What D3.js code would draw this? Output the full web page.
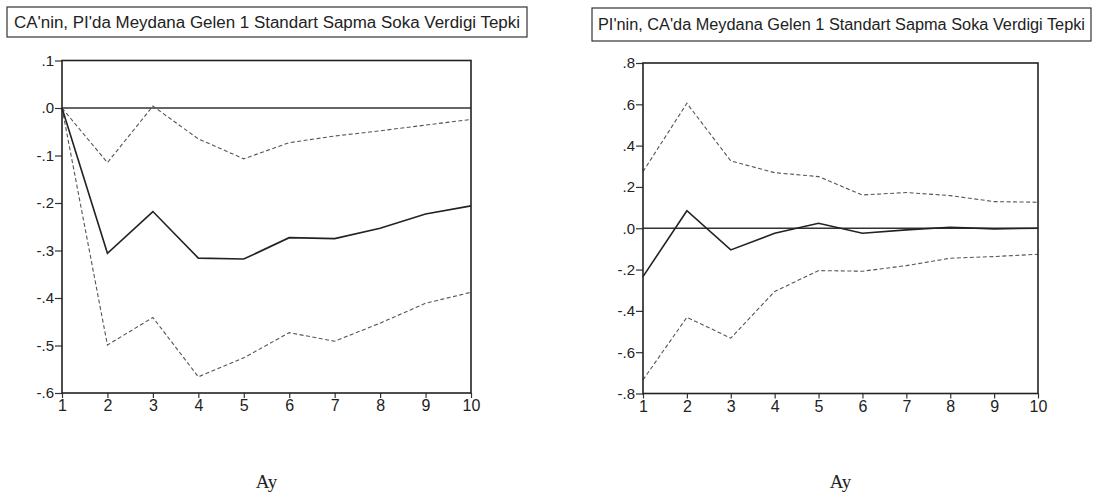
<!DOCTYPE html>
<html>
<head>
<meta charset="utf-8">
<script src="https://cdn.jsdelivr.net/npm/d3@7"></script>
<style>
  body { margin: 0; background: #fff; }
  svg { display: block; }
  .tick text { font-family: "Liberation Sans", Arial, sans-serif; fill: #222; }
</style>
</head>
<body>
<div id="chart"></div>
<script>
// DATA
var months = [1, 2, 3, 4, 5, 6, 7, 8, 9, 10];
var yTicksCA = [0.1, 0, -0.1, -0.2, -0.3, -0.4, -0.5, -0.6];
var yTicksPI = [0.8, 0.6, 0.4, 0.2, 0, -0.2, -0.4, -0.6, -0.8];

// CA response to PI shock
var caResp  = [0, -0.306, -0.218, -0.316, -0.318, -0.273, -0.275, -0.253, -0.223, -0.206];
var caUpper = [0, -0.115,  0.004, -0.065, -0.107, -0.073, -0.059, -0.048, -0.036, -0.024];
var caLower = [0, -0.499, -0.441, -0.566, -0.526, -0.473, -0.491, -0.453, -0.411, -0.388];

// PI response to CA shock
var piResp  = [-0.234, 0.085, -0.105, -0.024, 0.024, -0.024, -0.008, 0.005, -0.003, 0];
var piUpper = [0.274, 0.605, 0.326, 0.269, 0.250, 0.161, 0.173, 0.158, 0.129, 0.126];
var piLower = [-0.734, -0.431, -0.532, -0.306, -0.205, -0.208, -0.181, -0.145, -0.137, -0.126];

var titleCA = "CA'nin, PI'da Meydana Gelen 1 Standart Sapma Soka Verdigi Tepki";
var titlePI = "PI'nin, CA'da Meydana Gelen 1 Standart Sapma Soka Verdigi Tepki";
var xTitle = "Ay";

var width = 1094, height = 497;

var svg = d3.select("#chart").append("svg")
    .attr("width", width)
    .attr("height", height);

// format like .1 / .0 / -.1 (plain hyphen)
function fmt(v) {
  var s = Math.abs(v).toFixed(1).replace("0.", ".");
  return (v < -1e-9 ? "-" : "") + s;
}

function panel(opt) {
  var x = d3.scaleLinear().domain([1, 10]).range([opt.left, opt.right]);
  var y = d3.scaleLinear().domain(opt.yDomain).range([opt.bottom, opt.top]);

  var g = svg.append("g");

  // title box
  g.append("rect")
    .attr("x", opt.box[0]).attr("y", opt.box[1])
    .attr("width", opt.box[2] - opt.box[0]).attr("height", opt.box[3] - opt.box[1])
    .attr("fill", "none").attr("stroke", "#333").attr("stroke-width", 1.2);
  g.append("text")
    .attr("x", (opt.box[0] + opt.box[2]) / 2)
    .attr("y", (opt.box[1] + opt.box[3]) / 2 + 5.8)
    .attr("text-anchor", "middle")
    .style("font-family", "'Liberation Sans', Arial, sans-serif")
    .style("font-size", "16px")
    .attr("fill", "#222")
    .attr("textLength", opt.titleLen)
    .attr("lengthAdjust", "spacingAndGlyphs")
    .text(opt.title);

  // zero line
  g.append("line")
    .attr("x1", opt.left).attr("x2", opt.right)
    .attr("y1", y(0)).attr("y2", y(0))
    .attr("stroke", "#333").attr("stroke-width", 1.3);

  var line = d3.line()
    .x(function(d, i) { return x(months[i]); })
    .y(function(d) { return y(d); });

  [opt.upper, opt.lower].forEach(function(s) {
    g.append("path").datum(s)
      .attr("d", line)
      .attr("fill", "none")
      .attr("stroke", "#555")
      .attr("stroke-width", 1.1)
      .attr("stroke-dasharray", "4,2.5");
  });
  g.append("path").datum(opt.resp)
    .attr("d", line)
    .attr("fill", "none")
    .attr("stroke", "#222")
    .attr("stroke-width", 1.6);

  // axes
  var ax = g.append("g")
    .attr("transform", "translate(0," + opt.bottom + ")")
    .call(d3.axisBottom(x).tickValues(months).tickSize(5).tickPadding(2).tickFormat(d3.format("d")));
  ax.selectAll("text").style("font-size", "16px");

  var ay = g.append("g")
    .attr("transform", "translate(" + opt.left + ",0)")
    .call(d3.axisLeft(y).tickValues(opt.yTicks).tickSize(7).tickPadding(1).tickFormat(fmt));
  ay.selectAll("text").style("font-size", "15px");

  [ax, ay].forEach(function(a) {
    a.select(".domain").remove();
    a.selectAll("line").attr("stroke", "#333").attr("stroke-width", 1.2);
  });

  // plot frame
  g.append("rect")
    .attr("x", opt.left).attr("y", opt.top)
    .attr("width", opt.right - opt.left).attr("height", opt.bottom - opt.top)
    .attr("fill", "none").attr("stroke", "#222").attr("stroke-width", 1.6);

  // x title
  g.append("text")
    .attr("x", (opt.left + opt.right) / 2)
    .attr("y", 488)
    .attr("text-anchor", "middle")
    .style("font-family", "'Liberation Serif', 'Times New Roman', serif")
    .style("font-size", "19px")
    .attr("fill", "#222")
    .text(xTitle);
}

panel({
  left: 62, right: 471, top: 60.5, bottom: 393,
  yDomain: [-0.6, 0.1], yTicks: yTicksCA,
  resp: caResp, upper: caUpper, lower: caLower,
  title: titleCA, box: [7, 7, 527, 37], titleLen: 506
});

panel({
  left: 643, right: 1038, top: 63, bottom: 393.5,
  yDomain: [-0.8, 0.8], yTicks: yTicksPI,
  resp: piResp, upper: piUpper, lower: piLower,
  title: titlePI, box: [592, 8, 1091, 41], titleLen: 487
});
</script>
</body>
</html>
